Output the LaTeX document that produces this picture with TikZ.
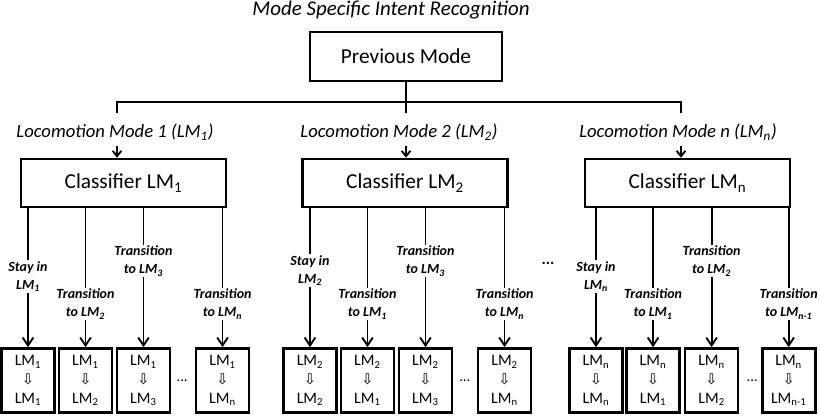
\documentclass[tikz,border=0pt]{standalone}
\usepackage{fontspec}
\setmainfont{Carlito}
\newfontfamily\arrowfont{DejaVu Sans}
\usetikzlibrary{arrows.meta}
\newcommand{\dn}{{\arrowfont\fontsize{11}{11}\selectfont ⇩}}
\newcommand{\lm}[1]{LM\textsubscript{#1}}

\begin{document}
\begin{tikzpicture}[x=0.75pt, y=-0.75pt, line width=1.4pt, node distance=43pt,
  block/.style={rectangle, draw, line width=2pt, minimum width=153.75pt, minimum height=36pt, font=\fontsize{16}{19}\selectfont},
  leaf/.style={rectangle, draw, line width=2pt, minimum width=39.75pt, minimum height=48pt, inner sep=0pt, align=center, font=\fontsize{12}{14}\selectfont},
  lbl/.style={fill=white, align=center, inner sep=1pt, font=\fontsize{10.5}{13.5}\selectfont\bfseries\itshape},
  mode/.style={font=\fontsize{14}{17}\selectfont\itshape},
  dots/.style={font=\fontsize{11}{11}\selectfont},
  small/.style={-{Straight Barb[length=4pt,width=6.5pt]}},
  >={Straight Barb[length=6pt,width=8pt]}]
\useasboundingbox (0,0) rectangle (820,415);

\node[mode, font=\fontsize{15.7}{18}\selectfont\itshape] (title) at (391,10) {Mode Specific Intent Recognition};
\node[block, minimum width=144pt, minimum height=36.75pt] (prev) at (406,56.5) {Previous Mode};

\coordinate (bus1) at (117,102);
\coordinate (bus2) at (406,102);
\coordinate (busn) at (681,102);

\node[mode] (mode1) at (115,132) {Locomotion Mode 1 (\lm{1})};
\node[mode] (mode2) at (399,132) {Locomotion Mode 2 (\lm{2})};
\node[mode] (moden) at (678,132) {Locomotion Mode n (\lm{n})};

\node[block] (cls1) at (123.5,183) {Classifier \lm{1}};
\node[block] (cls2) at (405,183) {Classifier \lm{2}};
\node[block] (clsn) at (687.5,183) {Classifier \lm{n}};

% leaves of mode 1
\node[leaf] (a1) at (28,380.5) {\lm{1}\\\dn\\\lm{1}};
\node[leaf, right of=a1, node distance=43.1pt] (a2) {\lm{1}\\\dn\\\lm{2}};
\node[leaf, right of=a2, node distance=43.5pt] (a3) {\lm{1}\\\dn\\\lm{3}};
\node[leaf, right of=a3, node distance=59.3pt] (a4) {\lm{1}\\\dn\\\lm{n}};
\node[dots, right of=a3, node distance=29pt] (dotsa) {...};

% leaves of mode 2
\node[leaf] (b1) at (310,380.5) {\lm{2}\\\dn\\\lm{2}};
\node[leaf, right of=b1, node distance=43.1pt] (b2) {\lm{2}\\\dn\\\lm{1}};
\node[leaf, right of=b2, node distance=43.5pt] (b3) {\lm{2}\\\dn\\\lm{3}};
\node[leaf, right of=b3, node distance=59.3pt] (b4) {\lm{2}\\\dn\\\lm{n}};
\node[dots, right of=b3, node distance=29.5pt] (dotsb) {...};

% leaves of mode n
\node[leaf] (c1) at (596,380.5) {\lm{n}\\\dn\\\lm{n}};
\node[leaf, right of=c1, node distance=42.8pt] (c2) {\lm{n}\\\dn\\\lm{1}};
\node[leaf, right of=c2, node distance=43.9pt] (c3) {\lm{n}\\\dn\\\lm{2}};
\node[leaf, right of=c3, node distance=57.8pt] (c4) {\lm{n}\\\dn\\\lm{n-1}};
\node[dots, right of=c3, node distance=30.5pt] (dotsc) {...};

\node[dots, font=\fontsize{12}{12}\selectfont\bfseries] (dotsmid) at (548,263) {...};

% tree from previous mode
\draw (prev.south) -- (bus2);
\draw (bus1) ++(0,11) -- (bus1) -- (busn) -- ++(0,11);
\draw (bus2) -- ++(0,11);
\draw[small] (bus1 |- mode1.south) -- (bus1 |- cls1.north);
\draw[small] (bus2 |- mode2.south) -- (bus2 |- cls2.north);
\draw[small] (busn |- moden.south) -- (busn |- clsn.north);

% decisions of classifier 1
\draw[->] (a1.north |- cls1.south) -- node[lbl, pos=0.49] {Stay in\\\lm{1}} (a1.north);
\draw[->] (a2.north |- cls1.south) -- node[lbl, pos=0.69] {Transition\\to \lm{2}} (a2.north);
\draw[->] (a3.north |- cls1.south) -- node[lbl, pos=0.38] {Transition\\to \lm{3}} (a3.north);
\draw[->] (a4.north |- cls1.south) -- node[lbl, pos=0.69] {Transition\\to \lm{n}} (a4.north);

% decisions of classifier 2
\draw[->] (b1.north |- cls2.south) -- node[lbl, pos=0.45] {Stay in\\\lm{2}} (b1.north);
\draw[->] (b2.north |- cls2.south) -- node[lbl, pos=0.69] {Transition\\to \lm{1}} (b2.north);
\draw[->] (b3.north |- cls2.south) -- node[lbl, pos=0.38] {Transition\\to \lm{3}} (b3.north);
\draw[->] (b4.north |- cls2.south) -- node[lbl, pos=0.69] {Transition\\to \lm{n}} (b4.north);

% decisions of classifier n
\draw[->] (c1.north |- clsn.south) -- node[lbl, pos=0.49] {Stay in\\\lm{n}} (c1.north);
\draw[->] (c2.north |- clsn.south) -- node[lbl, pos=0.69] {Transition\\to \lm{1}} (c2.north);
\draw[->] (c3.north |- clsn.south) -- node[lbl, pos=0.38] {Transition\\to \lm{2}} (c3.north);
\draw[->] (c4.north |- clsn.south) -- node[lbl, pos=0.69] {Transition\\to \lm{n-1}} (c4.north);

\end{tikzpicture}
\end{document}
